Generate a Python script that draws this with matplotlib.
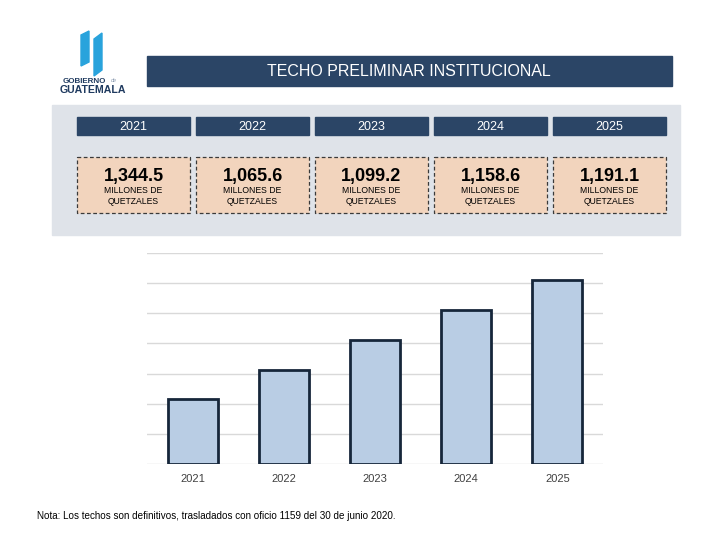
import matplotlib
matplotlib.use("Agg")
import matplotlib.pyplot as plt
from matplotlib.patches import Rectangle, Polygon

years = ["2021", "2022", "2023", "2024", "2025"]
values = [1344.5, 1065.6, 1099.2, 1158.6, 1191.1]
unit_line1 = ["MILLONES DE"] * 5
unit_line2 = ["QUETZALES"] * 5
bar_heights = [2.15, 3.12, 4.1, 5.1, 6.1]
title = "TECHO PRELIMINAR INSTITUCIONAL"
note = "Nota: Los techos son definitivos, trasladados con oficio 1159 del 30 de junio 2020."

NAVY = "#2b4566"
PEACH = "#f2d4bd"
PANEL = "#dfe3e9"

plt.rcParams['font.family'] = ['Liberation Sans', 'DejaVu Sans']

fig = plt.figure(figsize=(7.2, 5.4), dpi=100)
fig.patch.set_facecolor("white")

# overlay in pixel coordinates
ov = fig.add_axes([0, 0, 1, 1])
ov.set_xlim(0, 720)
ov.set_ylim(540, 0)
ov.axis("off")

# logo
ov.add_patch(Polygon([(81, 35), (89, 31), (89, 62), (81, 66)], closed=True, color="#29a3dc"))
ov.add_patch(Polygon([(94, 39), (102, 33), (102, 70), (94, 76)], closed=True, color="#29a3dc"))
ov.text(84, 83, "GOBIERNO", color="#1f3a5f", fontsize=5.8, fontweight="bold", ha="center", va="baseline")
ov.text(114, 82, "de", color="#8a9ab0", fontsize=4, style="italic", ha="center", va="baseline")
ov.text(93, 93, "GUATEMALA", color="#1f3a5f", fontsize=7.6, fontweight="bold", ha="center", va="baseline")

# title banner
ov.add_patch(Rectangle((147, 56), 525, 30, color=NAVY))
ov.text(409, 71, title, color="white", fontsize=11.5, ha="center", va="center")

# gray panel
ov.add_patch(Rectangle((52, 105), 628, 130, color=PANEL))

box_left = [77, 196, 315, 434, 553]
box_w = 113
for i, yr in enumerate(years):
    x0 = box_left[i]
    ov.add_patch(Rectangle((x0, 117), box_w, 18, color=NAVY))
    ov.text(x0 + box_w / 2, 126.5, yr, color="white", fontsize=9, ha="center", va="center")
    ov.add_patch(Rectangle((x0, 157), box_w, 56, facecolor=PEACH, edgecolor="#3a3a3a",
                           linestyle=(0, (3, 2)), linewidth=0.9))
    ov.text(x0 + box_w / 2, 176, f"{values[i]:,.1f}", color="black", fontsize=13,
            fontweight="bold", ha="center", va="center")
    ov.text(x0 + box_w / 2, 190.5, unit_line1[i], color="black", fontsize=6.2, ha="center", va="center")
    ov.text(x0 + box_w / 2, 201, unit_line2[i], color="black", fontsize=6.2, ha="center", va="center")

ov.text(37, 516, note, color="black", fontsize=7.1, ha="left", va="center")

# bar chart
ax = fig.add_axes([147 / 720, (540 - 464) / 540, 456 / 720, 211 / 540])
ax.set_zorder(2)
ax.patch.set_alpha(0)
x = range(len(years))
ax.bar(x, bar_heights, width=0.55, color="#b9cde4", edgecolor="#16263a", linewidth=2, zorder=3)
ax.set_xlim(-0.5, 4.5)
ax.set_ylim(0, 7)
ax.set_yticks(range(0, 8))
ax.yaxis.grid(True, color="#d9d9d9", linewidth=1, zorder=0)
ax.set_axisbelow(True)
ax.tick_params(axis="y", left=False, labelleft=False)
ax.tick_params(axis="x", bottom=False, pad=3.5, labelsize=8, labelcolor="#404040")
ax.set_xticks(list(x))
ax.set_xticklabels(years)
for s in ax.spines.values():
    s.set_visible(False)

fig.savefig("out.png", dpi=100)
